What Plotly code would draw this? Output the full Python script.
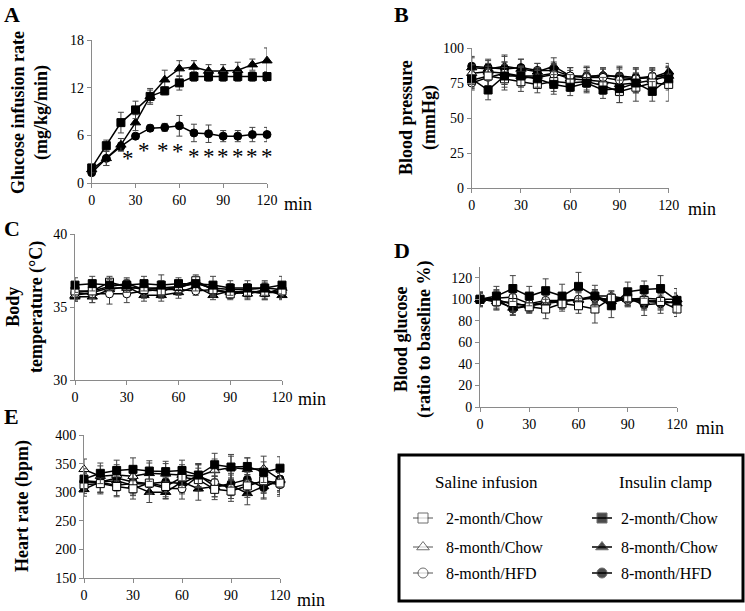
import plotly.graph_objects as go

W, H = 745, 611
t = [0, 10, 20, 30, 40, 50, 60, 70, 80, 90, 100, 110, 120]
x_ticks = [0, 30, 60, 90, 120]

# ---------------- Panel A: Glucose infusion rate (insulin clamp only) ----------------
A_clamp_2m_chow = [1.9, 4.7, 7.6, 9.2, 10.9, 11.6, 12.6, 13.4, 13.4, 13.4, 13.4, 13.4, 13.4]
A_clamp_2m_chow_err = [0.4, 0.7, 1.3, 1.1, 0.8, 0.5, 0.9, 0.6, 0.6, 0.6, 0.6, 0.6, 0.6]
A_clamp_8m_chow = [1.7, 3.1, 4.8, 7.6, 10.9, 13.0, 14.4, 14.6, 14.1, 14.1, 14.2, 14.9, 15.4]
A_clamp_8m_chow_err = [0.4, 0.9, 0.8, 1.0, 1.0, 1.2, 1.0, 0.8, 0.8, 0.8, 1.0, 0.7, 1.6]
A_clamp_8m_hfd = [1.3, 3.1, 4.6, 5.9, 6.9, 7.0, 7.2, 6.3, 6.2, 5.9, 5.9, 6.1, 6.1]
A_clamp_8m_hfd_err = [0.3, 0.9, 0.5, 0.3, 0.4, 0.5, 1.3, 1.1, 1.1, 0.7, 0.7, 0.9, 0.9]
A_star_t = [25, 36, 49, 59, 70, 80, 90, 100, 110, 120]
A_star_y = [3.8, 4.8, 4.8, 4.7, 4.1, 4.1, 4.1, 4.1, 4.1, 4.1]

# ---------------- Panel B: Blood pressure ----------------
B_sal_2m_chow = [77, 80, 78, 76, 74, 76, 75, 76, 73, 69, 72, 75, 74]
B_sal_2m_chow_err = [6, 7, 8, 7, 6, 7, 6, 7, 6, 8, 10, 7, 12]
B_sal_8m_chow = [82, 83, 82, 80, 80, 82, 78, 77, 76, 74, 75, 77, 80]
B_sal_8m_chow_err = [6, 6, 8, 7, 6, 7, 6, 7, 6, 8, 7, 7, 7]
B_sal_8m_hfd = [75, 79, 82, 79, 79, 81, 80, 79, 79, 77, 78, 80, 79]
B_sal_8m_hfd_err = [5, 6, 8, 7, 6, 7, 6, 7, 6, 8, 7, 6, 7]
B_clamp_2m_chow = [78, 70, 80, 80, 78, 74, 72, 75, 70, 71, 75, 69, 78]
B_clamp_2m_chow_err = [6, 7, 8, 7, 6, 7, 6, 7, 6, 10, 7, 7, 8]
B_clamp_8m_chow = [86, 85, 87, 85, 83, 87, 80, 79, 81, 79, 78, 79, 83]
B_clamp_8m_chow_err = [7, 6, 8, 7, 6, 6, 6, 7, 5, 7, 7, 6, 6]
B_clamp_8m_hfd = [87, 86, 85, 86, 84, 84, 80, 80, 80, 80, 79, 79, 81]
B_clamp_8m_hfd_err = [7, 6, 9, 6, 5, 6, 6, 7, 5, 7, 7, 6, 6]

# ---------------- Panel C: Body temperature ----------------
C_sal_2m_chow = [36.1, 36.1, 36.7, 36.4, 36.2, 36.1, 36.4, 36.8, 36.2, 35.9, 36.0, 36.0, 36.1]
C_sal_2m_chow_err = [0.4, 0.5, 0.4, 0.4, 0.5, 0.5, 0.4, 0.4, 0.5, 0.4, 0.4, 0.4, 0.5]
C_sal_8m_chow = [35.8, 36.0, 36.3, 36.3, 36.3, 36.3, 36.3, 36.7, 36.2, 36.0, 36.1, 35.9, 36.3]
C_sal_8m_chow_err = [0.4, 0.4, 0.4, 0.4, 0.5, 0.5, 0.4, 0.4, 0.5, 0.4, 0.4, 0.4, 0.4]
C_sal_8m_hfd = [35.9, 35.9, 35.9, 35.9, 36.1, 36.2, 36.2, 36.1, 36.2, 36.0, 36.1, 36.0, 36.0]
C_sal_8m_hfd_err = [0.4, 0.6, 0.7, 0.6, 0.5, 0.5, 0.4, 0.3, 0.4, 0.4, 0.4, 0.5, 0.4]
C_clamp_2m_chow = [36.5, 36.6, 36.5, 36.5, 36.6, 36.5, 36.6, 36.6, 36.5, 36.3, 36.3, 36.3, 36.5]
C_clamp_2m_chow_err = [0.5, 0.5, 0.4, 0.4, 0.5, 0.7, 0.4, 0.5, 0.6, 0.5, 0.5, 0.5, 0.6]
C_clamp_8m_chow = [35.7, 35.7, 36.2, 36.4, 35.8, 35.8, 36.0, 36.4, 35.8, 36.1, 35.9, 36.2, 35.8]
C_clamp_8m_chow_err = [0.3, 0.4, 0.4, 0.4, 0.4, 0.4, 0.4, 0.4, 0.3, 0.4, 0.4, 0.4, 0.3]
C_clamp_8m_hfd = [36.0, 36.1, 36.4, 36.6, 36.2, 36.3, 36.4, 36.6, 36.3, 36.2, 36.2, 36.3, 36.2]
C_clamp_8m_hfd_err = [0.4, 0.4, 0.4, 0.4, 0.4, 0.4, 0.4, 0.4, 0.4, 0.4, 0.4, 0.4, 0.4]

# ---------------- Panel D: Blood glucose (ratio to baseline %) ----------------
D_sal_2m_chow = [100, 98, 97, 93, 91, 96, 94, 91, 101, 101, 99, 98, 91]
D_sal_2m_chow_err = [6, 8, 8, 6, 9, 7, 7, 13, 6, 7, 8, 8, 7]
D_sal_8m_chow = [100, 100, 95, 95, 97, 98, 100, 103, 103, 100, 101, 100, 100]
D_sal_8m_chow_err = [6, 7, 7, 6, 7, 7, 7, 6, 5, 6, 6, 6, 6]
D_sal_8m_hfd = [100, 101, 102, 96, 99, 99, 100, 101, 100, 99, 98, 97, 97]
D_sal_8m_hfd_err = [6, 7, 7, 6, 7, 7, 7, 6, 5, 6, 6, 6, 6]
D_clamp_2m_chow = [100, 103, 110, 103, 108, 103, 112, 103, 94, 107, 109, 110, 99]
D_clamp_2m_chow_err = [7, 9, 12, 9, 11, 11, 13, 10, 11, 9, 8, 12, 11]
D_clamp_8m_chow = [100, 98, 92, 94, 97, 99, 99, 103, 98, 100, 98, 99, 96]
D_clamp_8m_chow_err = [6, 7, 6, 6, 7, 7, 7, 6, 5, 6, 8, 7, 6]
D_clamp_8m_hfd = [100, 100, 91, 94, 96, 98, 100, 102, 97, 101, 95, 96, 98]
D_clamp_8m_hfd_err = [6, 9, 6, 6, 8, 7, 9, 6, 6, 6, 10, 9, 7]

# ---------------- Panel E: Heart rate ----------------
E_sal_2m_chow = [313, 315, 310, 306, 316, 310, 326, 322, 305, 302, 311, 320, 316]
E_sal_2m_chow_err = [15, 18, 18, 18, 18, 18, 18, 20, 18, 18, 20, 20, 20]
E_sal_8m_chow = [340, 328, 330, 328, 333, 332, 330, 328, 338, 343, 340, 341, 322]
E_sal_8m_chow_err = [18, 18, 18, 18, 18, 18, 18, 20, 20, 20, 20, 22, 20]
E_sal_8m_hfd = [318, 317, 312, 315, 314, 307, 306, 328, 317, 307, 315, 318, 313]
E_sal_8m_hfd_err = [15, 18, 18, 18, 18, 18, 18, 20, 18, 18, 20, 20, 20]
E_clamp_2m_chow = [323, 333, 338, 340, 337, 336, 338, 330, 348, 344, 345, 335, 342]
E_clamp_2m_chow_err = [18, 18, 18, 20, 18, 18, 18, 20, 20, 22, 15, 18, 20]
E_clamp_8m_chow = [305, 318, 320, 312, 300, 300, 318, 306, 310, 312, 298, 310, 320]
E_clamp_8m_chow_err = [12, 18, 18, 18, 18, 12, 18, 20, 18, 18, 20, 20, 20]
E_clamp_8m_hfd = [320, 318, 325, 318, 315, 318, 315, 330, 310, 315, 322, 308, 323]
E_clamp_8m_hfd_err = [15, 18, 18, 18, 18, 18, 18, 20, 18, 18, 20, 20, 20]

legend_saline = ["2-month/Chow", "8-month/Chow", "8-month/HFD"]
legend_clamp = ["2-month/Chow", "8-month/Chow", "8-month/HFD"]

SERIF = "Liberation Serif"
AXIS_GRAY = "#8a8a8a"

STYLE = {
    "sal_2m_chow": dict(symbol="square", fill="white"),
    "sal_8m_chow": dict(symbol="triangle-up", fill="white"),
    "sal_8m_hfd": dict(symbol="circle", fill="white"),
    "clamp_2m_chow": dict(symbol="square", fill="black"),
    "clamp_8m_chow": dict(symbol="triangle-up", fill="black"),
    "clamp_8m_hfd": dict(symbol="circle", fill="black"),
}

fig = go.Figure()


def add_series(key, y, err, ax):
    st = STYLE[key]
    size = 8 if st["symbol"] != "triangle-up" else 9
    fig.add_trace(go.Scatter(
        x=t, y=y, mode="lines+markers",
        line=dict(color="black", width=1.5),
        marker=dict(symbol=st["symbol"], size=size, color=st["fill"],
                    line=dict(color="black", width=1)),
        error_y=dict(type="data", array=err, visible=True, color="#444444",
                     thickness=1, width=3),
        xaxis="x" + ax, yaxis="y" + ax, showlegend=False, cliponaxis=False,
    ))


# Panel A
add_series("clamp_8m_hfd", A_clamp_8m_hfd, A_clamp_8m_hfd_err, "")
add_series("clamp_8m_chow", A_clamp_8m_chow, A_clamp_8m_chow_err, "")
add_series("clamp_2m_chow", A_clamp_2m_chow, A_clamp_2m_chow_err, "")

panels = {
    "2": [B_sal_2m_chow, B_sal_2m_chow_err, B_sal_8m_chow, B_sal_8m_chow_err, B_sal_8m_hfd, B_sal_8m_hfd_err,
          B_clamp_2m_chow, B_clamp_2m_chow_err, B_clamp_8m_chow, B_clamp_8m_chow_err, B_clamp_8m_hfd, B_clamp_8m_hfd_err],
    "3": [C_sal_2m_chow, C_sal_2m_chow_err, C_sal_8m_chow, C_sal_8m_chow_err, C_sal_8m_hfd, C_sal_8m_hfd_err,
          C_clamp_2m_chow, C_clamp_2m_chow_err, C_clamp_8m_chow, C_clamp_8m_chow_err, C_clamp_8m_hfd, C_clamp_8m_hfd_err],
    "4": [D_sal_2m_chow, D_sal_2m_chow_err, D_sal_8m_chow, D_sal_8m_chow_err, D_sal_8m_hfd, D_sal_8m_hfd_err,
          D_clamp_2m_chow, D_clamp_2m_chow_err, D_clamp_8m_chow, D_clamp_8m_chow_err, D_clamp_8m_hfd, D_clamp_8m_hfd_err],
    "5": [E_sal_2m_chow, E_sal_2m_chow_err, E_sal_8m_chow, E_sal_8m_chow_err, E_sal_8m_hfd, E_sal_8m_hfd_err,
          E_clamp_2m_chow, E_clamp_2m_chow_err, E_clamp_8m_chow, E_clamp_8m_chow_err, E_clamp_8m_hfd, E_clamp_8m_hfd_err],
}
keys = ["sal_2m_chow", "sal_8m_chow", "sal_8m_hfd", "clamp_2m_chow", "clamp_8m_chow", "clamp_8m_hfd"]
draw_order = ["clamp_8m_chow", "clamp_8m_hfd", "sal_8m_chow", "sal_8m_hfd", "sal_2m_chow", "clamp_2m_chow"]
for ax, arrs in panels.items():
    for k in draw_order:
        i = keys.index(k)
        add_series(k, arrs[2 * i], arrs[2 * i + 1], ax)


def px_x(p):
    return p / W


def px_y(p):
    return 1 - p / H


def axis_common():
    return dict(showline=True, linecolor=AXIS_GRAY, linewidth=1, ticks="outside", ticklen=4,
                tickcolor=AXIS_GRAY, showgrid=False, zeroline=False, automargin=False,
                tickfont=dict(family=SERIF, size=14, color="black"))


# axis geometry (pixels): x0, x1, ytop, ybottom
geom = {
    "": (91.7, 267, 40, 183, [0, 18], [0, 6, 12, 18]),
    "2": (471.7, 668.7, 48, 188, [0, 100], [0, 25, 50, 75, 100]),
    "3": (75, 282, 234, 380, [30, 40], [30, 35, 40]),
    "4": (480, 677, 267, 407, [0, 130], [0, 20, 40, 60, 80, 100, 120]),
    "5": (84, 280, 435, 578, [150, 400], [150, 200, 250, 300, 350, 400]),
}
layout_axes = {}
for ax, (x0, x1, yt, yb, yr, yt_vals) in geom.items():
    xa = axis_common()
    xa.update(domain=[px_x(x0), px_x(x1)], range=[0, 120], tickvals=x_ticks,
              anchor="y" + ax)
    ya = axis_common()
    ya.update(domain=[px_y(yb), px_y(yt)], range=yr, tickvals=yt_vals, anchor="x" + ax)
    layout_axes["xaxis" + ax] = xa
    layout_axes["yaxis" + ax] = ya

# hidden pixel-space axis for the legend box samples
layout_axes["xaxis6"] = dict(domain=[0, 1], range=[0, W], visible=False, anchor="y6", automargin=False)
layout_axes["yaxis6"] = dict(domain=[0, 1], range=[H, 0], visible=False, anchor="x6", automargin=False)

legend_rows_y = [518, 547, 573]
for col_x, names, prefix in [(423, legend_saline, "sal"), (602, legend_clamp, "clamp")]:
    for row, k in enumerate(["_2m_chow", "_8m_chow", "_8m_hfd"]):
        st = STYLE[prefix + k]
        yy = legend_rows_y[row]
        fig.add_trace(go.Scatter(
            x=[col_x - 10, col_x, col_x + 10], y=[yy, yy, yy], mode="lines+markers",
            line=dict(color="black" if prefix == "clamp" else "#555555", width=1.5 if prefix == "clamp" else 1),
            marker=dict(symbol=st["symbol"], size=[0, 10 if st["symbol"] != "triangle-up" else 11, 0],
                        color=st["fill"], line=dict(color=["rgba(0,0,0,0)", "#333333", "rgba(0,0,0,0)"], width=1)),
            xaxis="x6", yaxis="y6", showlegend=False, hoverinfo="skip", cliponaxis=False,
        ))

annotations = []

# significance asterisks in panel A (data coordinates)
for st_t, st_y in zip(A_star_t, A_star_y):
    annotations.append(dict(text="*", x=st_t, y=st_y, xref="x", yref="y", showarrow=False,
                            xanchor="center", yanchor="middle", yshift=-6,
                            font=dict(family=SERIF, size=23, color="black")))


def ann(text, x, y, size, bold=False, angle=0, xanchor="center", yanchor="middle"):
    annotations.append(dict(
        text=("<b>%s</b>" % text) if bold else text, x=px_x(x), y=px_y(y), xref="paper", yref="paper",
        showarrow=False, textangle=angle, xanchor=xanchor, yanchor=yanchor,
        font=dict(family=SERIF, size=size, color="black"),
    ))


# panel letters
ann("A", 2, 15, 22, bold=True, xanchor="left")
ann("B", 392, 15, 22, bold=True, xanchor="left")
ann("C", 2, 228, 22, bold=True, xanchor="left")
ann("D", 392, 250, 22, bold=True, xanchor="left")
ann("E", 2, 416, 22, bold=True, xanchor="left")

# y-axis titles
ann("Glucose infusion rate<br>(mg/kg/min)", 30, 113, 18, bold=True, angle=-90)
ann("Blood pressure<br>(mmHg)", 418, 118, 18, bold=True, angle=-90)
ann("Body<br>temperature (°C)", 25, 307, 18, bold=True, angle=-90)
ann("Blood glucose<br>(ratio to baseline %)", 413, 340, 18, bold=True, angle=-90)
ann("Heart rate (bpm)", 22, 506, 18, bold=True, angle=-90)

# "min" labels
ann("min", 282, 204, 18, xanchor="left")
ann("min", 686, 209, 18, xanchor="left")
ann("min", 296, 399, 18, xanchor="left")
ann("min", 694, 428, 18, xanchor="left")
ann("min", 295, 600, 18, xanchor="left")

# legend box texts
ann("Saline infusion", 486, 482, 17)
ann("Insulin clamp", 665, 482, 17)
for row, name in enumerate(legend_saline):
    ann(name, 444, legend_rows_y[row], 16, xanchor="left")
for row, name in enumerate(legend_clamp):
    ann(name, 619, legend_rows_y[row], 16, xanchor="left")

shapes = [dict(type="rect", xref="paper", yref="paper", x0=px_x(399), x1=px_x(743),
               y0=px_y(601), y1=px_y(455), line=dict(color="black", width=3))]

fig.update_layout(
    width=W, height=H, margin=dict(l=0, r=0, t=0, b=0, autoexpand=False),
    paper_bgcolor="white", plot_bgcolor="rgba(0,0,0,0)",
    annotations=annotations, shapes=shapes, showlegend=False,
    font=dict(family=SERIF),
    **layout_axes,
)

fig.write_html("out.html", config={"displayModeBar": False},
               post_script="document.body.style.margin='0';document.body.style.padding='0';"
                           "document.body.style.overflow='hidden';")
